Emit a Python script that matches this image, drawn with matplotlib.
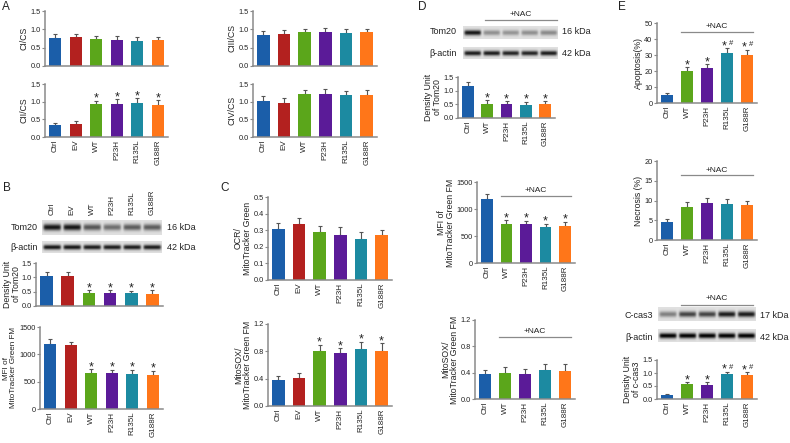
import matplotlib.pyplot as plt
import numpy as np

plt.rcParams['font.family'] = ['Liberation Sans', 'DejaVu Sans']

W, H = 790, 443
FS = 5.8
YFS = 5.3
LFS = 6.3

GROUPS6 = ["Ctrl", "EV", "WT", "P23H", "R135L", "G188R"]
GROUPS5 = ["Ctrl", "WT", "P23H", "R135L", "G188R"]
COLORS = {"Ctrl": "#1b5ea9", "EV": "#b3211f", "WT": "#5ba61b",
          "P23H": "#5b1b98", "R135L": "#1c8aa1", "G188R": "#ff7619"}

# panel A - complex activity / citrate synthase
ci_cs = [0.77, 0.78, 0.74, 0.72, 0.68, 0.70]
ci_cs_err = [0.11, 0.10, 0.09, 0.11, 0.11, 0.10]
ciii_cs = [0.84, 0.87, 0.93, 0.94, 0.90, 0.92]
ciii_cs_err = [0.11, 0.10, 0.09, 0.10, 0.10, 0.10]
cii_cs = [0.33, 0.37, 0.92, 0.93, 0.97, 0.90]
cii_cs_err = [0.08, 0.07, 0.11, 0.15, 0.12, 0.14]
civ_cs = [1.03, 0.97, 1.23, 1.23, 1.19, 1.20]
civ_cs_err = [0.13, 0.12, 0.11, 0.13, 0.12, 0.12]

# panel B
tom20_b = [1.03, 1.05, 0.45, 0.45, 0.44, 0.41]
tom20_b_err = [0.16, 0.14, 0.10, 0.10, 0.10, 0.14]
mfi_b = [1195, 1165, 655, 665, 635, 625]
mfi_b_err = [85, 60, 80, 55, 85, 75]
blot_tom20_b = [0.80, 0.80, 0.55, 0.45, 0.52, 0.52]
blot_actin_b = [0.80, 0.80, 0.78, 0.78, 0.78, 0.78]

# panel C
ocr = [0.31, 0.34, 0.29, 0.27, 0.25, 0.27]
ocr_err = [0.035, 0.035, 0.037, 0.047, 0.042, 0.033]
mitosox_c = [0.38, 0.41, 0.81, 0.77, 0.83, 0.81]
mitosox_c_err = [0.06, 0.07, 0.09, 0.08, 0.11, 0.11]

# panel D (+NAC)
tom20_d = [1.17, 0.52, 0.50, 0.48, 0.50]
tom20_d_err = [0.14, 0.13, 0.13, 0.12, 0.13]
mfi_d = [1190, 725, 715, 660, 680]
mfi_d_err = [95, 75, 70, 70, 85]
mitosox_d = [0.38, 0.39, 0.38, 0.44, 0.43]
mitosox_d_err = [0.06, 0.09, 0.08, 0.09, 0.10]
blot_tom20_d = [0.80, 0.32, 0.30, 0.32, 0.34]
blot_actin_d = [0.78, 0.78, 0.75, 0.75, 0.78]

# panel E (+NAC)
apoptosis = [5.2, 20.0, 21.7, 31.5, 30.2]
apoptosis_err = [1.0, 2.5, 2.7, 2.8, 3.2]
necrosis = [4.6, 8.4, 9.4, 9.1, 8.8]
necrosis_err = [0.7, 1.3, 1.2, 1.2, 1.1]
ccas3 = [0.17, 0.57, 0.54, 0.96, 0.92]
ccas3_err = [0.03, 0.08, 0.10, 0.09, 0.10]
blot_ccas3 = [0.38, 0.62, 0.62, 0.78, 0.78]
blot_actin_e = [0.88, 0.88, 0.88, 0.88, 0.88]

STAR4 = ["", "", "*", "*", "*", "*"]
STAR5 = ["", "*", "*", "*", "*"]
HASH5 = ["", "*", "*", "*#", "*#"]


def px(x, y):
    return x / W, 1 - y / H


def px_axes(fig, left, right, top, bottom):
    return fig.add_axes([left / W, 1 - bottom / H, (right - left) / W, (bottom - top) / H])


def put_mark(ax, xi, y, m):
    if m == "*":
        ax.annotate("*", (xi, y), xytext=(0, -3), textcoords="offset points",
                    ha="center", va="bottom", fontsize=9, color="#222222")
    else:
        # star plus a smaller hash beside it
        ax.annotate("*", (xi, y), xytext=(-2.2, -3), textcoords="offset points",
                    ha="center", va="bottom", fontsize=9, color="#222222")
        ax.annotate("#", (xi, y), xytext=(2.6, 0.8), textcoords="offset points",
                    ha="center", va="bottom", fontsize=5.5, color="#222222")


def bar_panel(fig, box, groups, means, errs, yticks, ylabel, fmt,
              marks=None, show_x=True, nac=None, label_x=None, label_fs=LFS):
    ax = px_axes(fig, *box)
    x = np.arange(len(groups))
    ax.bar(x, means, width=0.6, color=[COLORS[g] for g in groups], zorder=2)
    ax.errorbar(x, means, yerr=[np.zeros(len(means)), errs], fmt='none',
                ecolor='#555555', elinewidth=0.8, capsize=1.6, capthick=0.8, zorder=1)
    ax.set_xlim(-0.5, len(groups) - 0.5)
    ax.set_ylim(0, yticks[-1])
    ax.set_yticks(yticks)
    ax.set_yticklabels([fmt.format(t) for t in yticks])
    ax.set_xticks(x)
    ax.set_xticklabels(groups if show_x else [], rotation=90)
    for s in ("top", "right"):
        ax.spines[s].set_visible(False)
    for s in ("left", "bottom"):
        ax.spines[s].set_color("#8a8a8a")
        ax.spines[s].set_linewidth(1.1)
    ax.tick_params(axis="y", length=2, width=0.8, color="#8a8a8a",
                   labelsize=YFS, pad=1.2, labelcolor="#222222")
    ax.tick_params(axis="x", length=0, labelsize=FS, pad=2, labelcolor="#222222")
    ax.set_ylabel(ylabel, fontsize=label_fs, labelpad=1.0, color="#222222", linespacing=1.0)
    if label_x is not None:
        # label right edge at a given figure pixel
        ax.yaxis.set_label_coords((label_x - box[0]) / (box[1] - box[0]), 0.5)
    ax.patch.set_alpha(0)
    if marks:
        for xi, m, e, v in zip(x, marks, errs, means):
            if m:
                put_mark(ax, xi, v + e, m)
    if nac is not None:
        tr = ax.get_xaxis_transform()
        n = len(groups)
        ax.plot([0.7, n - 0.7], [nac, nac], color="#8a8a8a", lw=0.9,
                transform=tr, clip_on=False)
        ax.text((n) / 2, nac + 0.02, "+NAC", transform=tr, ha="center",
                va="bottom", fontsize=6, color="#222222")
    return ax


def blot(fig, box, intensities):
    ax = px_axes(fig, *box)
    n = len(intensities)
    lane_w, h = 40, 30
    img = np.full((h, n * lane_w), 0.88)
    yy = np.arange(h)[:, None]
    xx = np.arange(lane_w)[None, :]
    vprof = np.exp(-((yy - h / 2) / (h * 0.2)) ** 2)
    hprof = 1 / (1 + np.exp(-(xx - 3) * 0.8)) * 1 / (1 + np.exp((xx - lane_w + 3) * 0.8))
    for i, v in enumerate(intensities):
        img[:, i * lane_w:(i + 1) * lane_w] -= v * vprof * hprof
    ax.imshow(img, cmap="gray", vmin=0, vmax=1, aspect="auto", interpolation="bilinear")
    ax.set_axis_off()
    return ax


def ftext(fig, x, y, s, **kw):
    kw.setdefault("fontsize", 6.5)
    kw.setdefault("color", "#222222")
    kw.setdefault("va", "center")
    fig.text(*px(x, y), s, **kw)


def fline(fig, x0, x1, y):
    fig.add_artist(plt.Line2D([x0 / W, x1 / W], [1 - y / H, 1 - y / H],
                              color="#8a8a8a", lw=0.9))


fig = plt.figure(figsize=(W / 100, H / 100), dpi=100)

# panel letters
for letter, (lx, ly) in {"A": (2, 7), "B": (3, 188), "C": (220, 188),
                         "D": (418, 7), "E": (618, 7)}.items():
    ftext(fig, lx, ly, letter, fontsize=8.5)

# A
bar_panel(fig, (45, 168, 11, 66), GROUPS6, ci_cs, ci_cs_err, [0, 0.5, 1.0, 1.5], "CI/CS", "{:.1f}", show_x=False)
bar_panel(fig, (253, 377, 11, 66), GROUPS6, ciii_cs, ciii_cs_err, [0, 0.5, 1.0, 1.5], "CIII/CS", "{:.1f}", show_x=False)
bar_panel(fig, (45, 168, 84, 137), GROUPS6, cii_cs, cii_cs_err, [0, 0.5, 1.0, 1.5], "CII/CS", "{:.1f}", marks=STAR4)
bar_panel(fig, (253, 377, 84, 137), GROUPS6, civ_cs, civ_cs_err, [0, 0.5, 1.0, 1.5], "CIV/CS", "{:.1f}")

# B
for i, g in enumerate(GROUPS6):
    ftext(fig, 52 + i * 20, 215, g, rotation=90, ha="center", va="bottom", fontsize=FS)
blot(fig, (42, 162, 220, 235), blot_tom20_b)
blot(fig, (42, 162, 241, 253), blot_actin_b)
ftext(fig, 38, 228, "Tom20", ha="right")
ftext(fig, 38, 247, "β-actin", ha="right")
ftext(fig, 167, 228, "16 kDa")
ftext(fig, 167, 247, "42 kDa")
bar_panel(fig, (36, 163, 263, 306), GROUPS6, tom20_b, tom20_b_err, [0, 0.5, 1.0, 1.5],
          "Density Unit\nof Tom20", "{:.1f}", marks=STAR4, show_x=False, label_x=21)
bar_panel(fig, (40, 163, 327, 409), GROUPS6, mfi_b, mfi_b_err, [0, 500, 1000, 1500],
          "MFI of\nMitoTracker Green FM", "{:.0f}", marks=STAR4, label_x=17, label_fs=5.9)

# C
bar_panel(fig, (268, 392, 197, 280), GROUPS6, ocr, ocr_err, [0, 0.1, 0.2, 0.3, 0.4, 0.5],
          "OCR/\nMitoTracker Green", "{:.1f}")
bar_panel(fig, (268, 392, 324, 406), GROUPS6, mitosox_c, mitosox_c_err, [0, 0.4, 0.8, 1.2],
          "MitoSOX/\nMitoTracker Green FM", "{:.1f}", marks=STAR4)

# D
fline(fig, 485, 557, 20)
ftext(fig, 521, 14, "+NAC", ha="center", fontsize=6)
blot(fig, (463, 558, 26, 39), blot_tom20_d)
blot(fig, (463, 558, 47, 59), blot_actin_d)
ftext(fig, 457, 32, "Tom20", ha="right")
ftext(fig, 457, 53, "β-actin", ha="right")
ftext(fig, 562, 32, "16 kDa")
ftext(fig, 562, 53, "42 kDa")
bar_panel(fig, (458, 555, 77, 118), GROUPS5, tom20_d, tom20_d_err, [0, 0.5, 1.0, 1.5],
          "Density Unit\nof Tom20", "{:.1f}", marks=STAR5)
bar_panel(fig, (477, 575, 182, 263), GROUPS5, mfi_d, mfi_d_err, [0, 500, 1000, 1500],
          "MFI of\nMitoTracker Green FM", "{:.0f}", marks=STAR5, nac=0.83)
bar_panel(fig, (475, 575, 320, 399), GROUPS5, mitosox_d, mitosox_d_err, [0, 0.4, 0.8, 1.2],
          "MitoSOX/\nMitoTracker Green FM", "{:.1f}", nac=0.785)

# E
bar_panel(fig, (657, 757, 23, 103), GROUPS5, apoptosis, apoptosis_err, [0, 10, 20, 30, 40, 50],
          "Apoptosis(%)", "{:.0f}", marks=HASH5, nac=0.89)
bar_panel(fig, (657, 757, 161, 240), GROUPS5, necrosis, necrosis_err, [0, 5, 10, 15, 20],
          "Necrosis (%)", "{:.0f}", nac=0.82)
fline(fig, 681, 753, 305)
ftext(fig, 717, 299, "+NAC", ha="center", fontsize=6)
blot(fig, (658, 756, 307, 321), blot_ccas3)
blot(fig, (658, 756, 329, 342), blot_actin_e)
ftext(fig, 653, 315, "C-cas3", ha="right")
ftext(fig, 653, 337, "β-actin", ha="right")
ftext(fig, 760, 315, "17 kDa")
ftext(fig, 760, 337, "42 kDa")
bar_panel(fig, (657, 757, 360, 399), GROUPS5, ccas3, ccas3_err, [0, 0.5, 1.0, 1.5],
          "Density Unit\nof c-cas3", "{:.1f}", marks=HASH5)

fig.savefig("out.png", dpi=100)
